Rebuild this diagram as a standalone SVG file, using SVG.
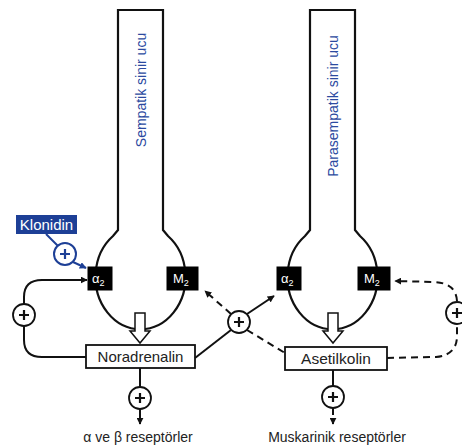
<svg xmlns="http://www.w3.org/2000/svg" width="462" height="448" viewBox="0 0 462 448">
<defs>
<style>
.ln{fill:none;stroke:#111;stroke-width:2}
.dash{fill:none;stroke:#111;stroke-width:2;stroke-dasharray:7,5}
.neu{fill:#fff;stroke:#111;stroke-width:2.2}
.rec{fill:#000;stroke:#000}
.box{fill:#fff;stroke:#111;stroke-width:1.8}
.pc{fill:#fff;stroke:#111;stroke-width:1.8}
.pl{stroke:#111;stroke-width:2.2}
.t{font-family:"Liberation Sans",Arial,sans-serif;fill:#222}
.tb{font-family:"Liberation Sans",Arial,sans-serif;fill:#2b4aa0;font-size:14px}
.rt{font-family:"Liberation Sans",Arial,sans-serif;fill:#fff;font-size:13px}
.blue{fill:none;stroke:#1d3f96;stroke-width:2}
</style>
<marker id="ah" viewBox="0 0 10 10" refX="9" refY="5" markerWidth="7" markerHeight="7" markerUnits="userSpaceOnUse" orient="auto"><path d="M0,0 L10,5 L0,10 Z" fill="#111"/></marker>
<marker id="ahb" viewBox="0 0 10 10" refX="9" refY="5" markerWidth="7" markerHeight="7" markerUnits="userSpaceOnUse" orient="auto"><path d="M0,0 L10,5 L0,10 Z" fill="#1d3f96"/></marker>
</defs>
<rect width="462" height="448" fill="#fff"/>

<g id="sempatik">
<path class="neu" d="M118,10 L118,230 L113,236 A45,52 0 1 0 168,236 L163,230 L163,10 Z"/>
<text class="tb" text-anchor="middle" transform="translate(146,90) rotate(-90)">Sempatik sinir ucu</text>
<path fill="#fff" stroke="#111" stroke-width="1.5" d="M135,313 L145,313 L145,331 L150,331 L140,343 L130,331 L135,331 Z"/>
</g>
<g id="parasempatik">
<path class="neu" d="M310,10 L310,230 L305,236 A45,52 0 1 0 360,236 L355,230 L355,10 Z"/>
<text class="tb" text-anchor="middle" transform="translate(338,106) rotate(-90)">Parasempatik sinir ucu</text>
<path fill="#fff" stroke="#111" stroke-width="1.5" d="M328,313 L338,313 L338,331 L343,331 L333,343 L323,331 L328,331 Z"/>
</g>

<g id="alpha2-left"><rect class="rec" x="88" y="267" width="24" height="23"/><text class="rt" x="92" y="283">α<tspan font-size="9" dy="3">2</tspan></text></g>
<g id="m2-left"><rect class="rec" x="167" y="267" width="31" height="23"/><text class="rt" x="173" y="283">M<tspan font-size="9" dy="3">2</tspan></text></g>
<g id="alpha2-right"><rect class="rec" x="277" y="267" width="24" height="23"/><text class="rt" x="281" y="283">α<tspan font-size="9" dy="3">2</tspan></text></g>
<g id="m2-right"><rect class="rec" x="358" y="267" width="32" height="23"/><text class="rt" x="364" y="283">M<tspan font-size="9" dy="3">2</tspan></text></g>

<g id="noradrenalin"><rect class="box" x="86" y="345" width="109" height="23"/><text class="t" x="140.5" y="362" font-size="15" text-anchor="middle">Noradrenalin</text></g>
<g id="asetilkolin"><rect class="box" x="285" y="347" width="102" height="23"/><text class="t" x="336" y="364" font-size="15.5" text-anchor="middle">Asetilkolin</text></g>

<g id="klonidin"><rect x="16" y="215" width="61" height="19" fill="#1d3f96"/><text x="46.5" y="230" font-family="Liberation Sans,Arial,sans-serif" font-size="15" fill="#fff" text-anchor="middle">Klonidin</text></g>

<g id="connectors">
<!-- klonidin -->
<line class="blue" x1="46" y1="234" x2="58" y2="246"/>
<circle cx="65" cy="254" r="11" fill="#fff" stroke="#1d3f96" stroke-width="2"/>
<path d="M60,254 H70 M65,249 V259" stroke="#1d3f96" stroke-width="2.2"/>
<line class="blue" x1="73" y1="262" x2="86" y2="268" marker-end="url(#ahb)"/>
<!-- left loop -->
<path class="ln" d="M86,357 L42,357 Q24,357 24,340 L24,326"/>
<path class="ln" d="M24,304 L24,297 Q24,280 42,280 L87,280" marker-end="url(#ah)"/>
<circle class="pc" cx="24" cy="315" r="11"/><path class="pl" d="M19,315 H29 M24,310 V320"/>
<!-- centre cross -->
<line class="ln" x1="195" y1="358" x2="231" y2="330"/>
<line class="ln" x1="247" y1="314" x2="274" y2="296" marker-end="url(#ah)"/>
<line class="dash" x1="231" y1="314" x2="205" y2="291" marker-end="url(#ah)" stroke-dasharray="6,5"/>
<line class="dash" x1="247" y1="330" x2="285" y2="353" stroke-dasharray="6,5"/>
<circle class="pc" cx="239" cy="322" r="11"/><path class="pl" d="M234,322 H244 M239,317 V327"/>
<!-- right loop -->
<path class="dash" d="M387,358 L436,357 Q457,355 457,336 L457,325"/>
<path class="dash" d="M457,301 Q456,283 434,282 L395,281" marker-end="url(#ah)"/>
<circle class="pc" cx="457" cy="313" r="11"/><path class="pl" d="M452,313 H462 M457,308 V318"/>
<!-- outputs -->
<line class="ln" x1="140" y1="368" x2="140" y2="387"/>
<circle class="pc" cx="140" cy="398" r="11"/><path class="pl" d="M135,398 H145 M140,393 V403"/>
<line class="ln" x1="140" y1="409" x2="140" y2="424" marker-end="url(#ah)"/>
<line class="ln" x1="333" y1="370" x2="333" y2="386"/>
<circle class="pc" cx="333" cy="397" r="11"/><path class="pl" d="M328,397 H338 M333,392 V402"/>
<line class="dash" x1="333" y1="408" x2="333" y2="424" stroke-dasharray="5,4" marker-end="url(#ah)"/>
</g>

<text class="t" x="138" y="442" font-size="14" text-anchor="middle">α ve β reseptörler</text>
<text class="t" x="337" y="442" font-size="14" text-anchor="middle">Muskarinik reseptörler</text>
</svg>
